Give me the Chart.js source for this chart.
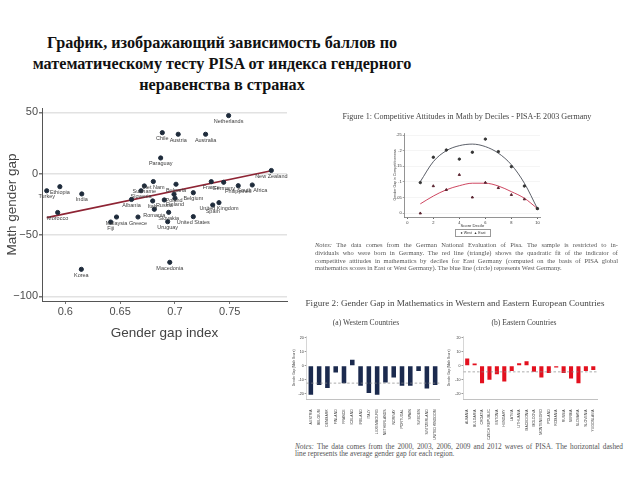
<!DOCTYPE html>
<html>
<head>
<meta charset="utf-8">
<script src="https://cdn.jsdelivr.net/npm/chart.js@4.4.1/dist/chart.umd.min.js"></script>
<style>
body { margin: 0; width: 640px; height: 480px; background: #fff; position: relative; overflow: hidden; }
canvas, .t { position: absolute; }
#title { left: 0; top: 33px; width: 444px; text-align: center; font: bold 16.2px/21px "Liberation Serif", serif; color: #111; }
.t { font-family: "Liberation Serif", serif; color: #444; white-space: nowrap; }
.j { text-align: justify; text-align-last: justify; }
.notes div { white-space: nowrap; }
</style>
</head>
<body>
<div id="title" class="t">График, изображающий зависимость баллов по<br>математическому тесту PISA от индекса гендерного<br>неравенства в странах</div>

<canvas id="main" width="295" height="245" style="left:0;top:100px"></canvas>

<div class="t" style="left:292px;top:112px;width:350px;text-align:center;font-size:8.1px;line-height:10px">Figure 1: Competitive Attitudes in Math by Deciles - PISA-E 2003 Germany</div>
<canvas id="fig1" width="175" height="115" style="left:380px;top:125px"></canvas>
<div class="t" style="left:455px;top:229px;width:34px;height:6px;border:0.5px solid #999;font:3.6px/6px 'Liberation Sans',sans-serif;color:#333;text-align:center">● West &nbsp;▲ East</div>

<div class="t notes" style="left:315px;top:241px;width:303px;font-size:6.5px;line-height:7.8px;color:#555">
  <div class="j"><i>Notes:</i> The data comes from the German National Evaluation of Pisa. The sample is restricted to in-</div>
  <div class="j">dividuals who were born in Germany. The red line (triangle) shows the quadratic fit of the indicator of</div>
  <div class="j">competitive attitudes in mathematics by deciles for East Germany (computed on the basis of PISA global</div>
  <div>mathematics scores in East or West Germany). The blue line (circle) represents West Germany.</div>
</div>

<div class="t" style="left:255px;top:298px;width:400px;text-align:center;font-size:9.1px;line-height:10px">Figure 2: Gender Gap in Mathematics in Western and Eastern European Countries</div>
<div class="t" style="left:316px;top:319px;width:100px;text-align:center;font-size:7.6px;line-height:8px">(a) Western Countries</div>
<div class="t" style="left:474px;top:319px;width:100px;text-align:center;font-size:7.6px;line-height:8px">(b) Eastern Countries</div>
<canvas id="west" width="160" height="110" style="left:285px;top:330px"></canvas>
<canvas id="east" width="160" height="110" style="left:440px;top:330px"></canvas>

<div class="t notes" style="left:295px;top:444px;width:328px;font-size:7.3px;line-height:6.6px;color:#555">
  <div class="j"><i>Notes:</i> The data comes from the 2000, 2003, 2006, 2009 and 2012 waves of PISA. The horizontal dashed</div>
  <div>line represents the average gender gap for each region.</div>
</div>

<script>
// main scatter: gender gap index vs math gender gap
const countries = ['Netherlands', 'Chile', 'Austria', 'Australia', 'Paraguay', 'New Zealand',
  'Turkey', 'Ethiopia', 'India', 'Morocco', 'Korea', 'Macedonia', 'Malaysia', 'Fiji', 'Greece',
  'Albania', 'Suriname', 'Slovenia', 'Viet Nam', 'Bulgaria', 'Poland', 'Finland', 'Belgium',
  'Russia', 'Italy', 'Romania', 'Slovakia', 'Uruguay', 'United States', 'France', 'Germany',
  'Philippines', 'South Africa', 'Spain', 'United Kingdom'];
const genderGapIndex = [0.749, 0.6885, 0.703, 0.728, 0.687, 0.788,
  0.583, 0.595, 0.615, 0.593, 0.6146, 0.6953, 0.6467, 0.6414, 0.6663,
  0.6604, 0.6721, 0.6691, 0.6803, 0.701, 0.6992, 0.7001, 0.7168,
  0.6903, 0.6797, 0.6812, 0.6943, 0.6934, 0.7168, 0.7332, 0.7445,
  0.7578, 0.7706, 0.7345, 0.7402];
const mathGap = [47.3, 33.4, 32.1, 32.1, 12.8, 2.6,
  -13.9, -10.6, -16.5, -31.6, -77.9, -72.2, -35.3, -39.4, -35.3,
  -21.0, -10.0, -13.9, -6.4, -8.6, -16.8, -20.0, -15.5,
  -21.4, -22.2, -29.0, -31.5, -39.1, -35.0, -6.5, -7.0,
  -9.8, -9.2, -25.5, -23.6];
const fitX = [0.583, 0.788];
const fitY = [-35.8, 2.4];
const mainXTicks = [0.6, 0.65, 0.7, 0.75];
const mainYTicks = [-100, -50, 0, 50];

// figure 1: competitive attitudes by decile
const deciles = [1, 2, 3, 4, 5, 6, 7, 8, 9, 10];
const westGap = [0.098, 0.179, 0.202, 0.173, 0.195, 0.237, 0.197, 0.149, 0.087, 0.015];
const eastGap = [0.0, 0.087, 0.075, 0.123, 0.051, 0.098, 0.081, 0.059, 0.045, 0.015];
const westFit = [0.101, 0.165, 0.2, 0.216, 0.221, 0.213, 0.192, 0.155, 0.096, 0.015];
const eastFit = [0.03, 0.055, 0.075, 0.088, 0.096, 0.096, 0.087, 0.069, 0.048, 0.015];
const fig1XTicks = [0, 2, 4, 6, 8, 10];
const fig1YTicks = [0, 0.05, 0.1, 0.15, 0.2, 0.25];

// figure 2: gender gap in western and eastern countries
const westCountries = ['AUSTRIA', 'BELGIUM', 'DENMARK', 'FINLAND', 'FRANCE', 'ICELAND', 'IRELAND', 'ITALY',
  'LUXEMBOURG', 'NETHERLANDS', 'NORWAY', 'PORTUGAL', 'SPAIN', 'SWEDEN', 'SWITZERLAND', 'UNITED KINGDOM'];
const westValues = [-20.7, -13.8, -15.9, -4.8, -12.4, 4.3, -14.3, -19.5,
  -20.7, -11.9, -8.3, -14.3, -14.3, -3.6, -16.2, -13.8];
const westAvg = -12.4;
const eastCountries = ['ALBANIA', 'BULGARIA', 'CROATIA', 'CZECH REPUBLIC', 'ESTONIA', 'HUNGARY', 'LATVIA',
  'LITHUANIA', 'MACEDONIA', 'MOLDOVA', 'MONTENEGRO', 'POLAND', 'ROMANIA', 'RUSSIA', 'SERBIA',
  'SLOVAKIA', 'SLOVENIA', 'YUGOSLAVIA'];
const eastValues = [5.2, 1.7, -12.4, -10, -6, -11.2, -3.6, 1.9, 3.3, -4.3, -8.3, -5.2, -1.2,
  -5.2, -9, -12.4, -3.6, -2.9];
const eastAvg = -4.3;
const fig2YTicks = [-20, -10, 0, 10, 20];

Chart.defaults.font.family = '"Liberation Sans", Arial, sans-serif';
Chart.defaults.animation = false;
Chart.defaults.plugins.legend.display = false;
Chart.defaults.plugins.tooltip.enabled = false;

const setTicks = list => scale => { scale.ticks = list.map(v => ({ value: v })); };

const namesPlugin = {
  id: 'names',
  afterDatasetsDraw(chart) {
    const ctx = chart.ctx;
    const meta = chart.getDatasetMeta(0);
    ctx.save();
    ctx.font = '5.5px "Liberation Sans", sans-serif';
    ctx.fillStyle = '#3c3c3c';
    ctx.textAlign = 'center';
    ctx.textBaseline = 'middle';
    meta.data.forEach((pt, i) => ctx.fillText(countries[i], pt.x, pt.y + 6));
    ctx.restore();
  }
};

new Chart(document.getElementById('main'), {
  type: 'scatter',
  data: {
    datasets: [
      {
        data: countries.map((c, i) => ({ x: genderGapIndex[i], y: mathGap[i] })),
        backgroundColor: '#1e2b3b',
        borderColor: '#1e2b3b',
        pointRadius: 2.1
      },
      {
        type: 'line',
        data: fitX.map((x, i) => ({ x: x, y: fitY[i] })),
        borderColor: '#8e2434',
        borderWidth: 1.6,
        pointRadius: 0
      }
    ]
  },
  options: {
    responsive: false,
    layout: { padding: { top: 8, right: 8, left: 0, bottom: 0 } },
    scales: {
      x: {
        type: 'linear',
        min: 0.5787,
        max: 0.8023,
        afterBuildTicks: setTicks(mainXTicks),
        afterFit: s => { s.height = 44; },
        grid: { drawOnChartArea: false, tickLength: 3, color: '#777' },
        border: { color: '#555', width: 1 },
        ticks: { font: { size: 11 }, color: '#4d4d4d', padding: 1.5, callback: v => String(v) },
        title: { display: true, text: 'Gender gap index', font: { size: 13.5 }, color: '#444', padding: { top: 0, bottom: 4 } }
      },
      y: {
        min: -103.7,
        max: 53.5,
        afterBuildTicks: setTicks(mainYTicks),
        afterFit: s => { s.width = 42; },
        grid: { color: '#e2e2e2', lineWidth: 1.5, tickLength: 3, tickColor: '#777' },
        border: { color: '#555', width: 1 },
        ticks: { font: { size: 11 }, color: '#4d4d4d', padding: 1, callback: v => String(v).replace('-', '\u2212') },
        title: { display: true, text: 'Math gender gap', font: { size: 13.5 }, color: '#444', padding: { top: 4, bottom: 0 } }
      }
    }
  },
  plugins: [namesPlugin]
});

new Chart(document.getElementById('fig1'), {
  type: 'scatter',
  data: {
    datasets: [
      { data: deciles.map((d, i) => ({ x: d, y: westGap[i] })), backgroundColor: '#333', borderColor: '#333', pointRadius: 1.2 },
      { data: deciles.map((d, i) => ({ x: d, y: eastGap[i] })), backgroundColor: '#5a2430', borderColor: '#5a2430', pointRadius: 1.3, pointStyle: 'triangle' },
      { type: 'line', data: deciles.map((d, i) => ({ x: d, y: westFit[i] })), borderColor: '#4a4e58', borderWidth: 0.9, pointRadius: 0, cubicInterpolationMode: 'monotone' },
      { type: 'line', data: deciles.map((d, i) => ({ x: d, y: eastFit[i] })), borderColor: '#c8324f', borderWidth: 0.9, pointRadius: 0, cubicInterpolationMode: 'monotone' }
    ]
  },
  options: {
    responsive: false,
    layout: { padding: { top: 8, right: 15, left: 0, bottom: 0 } },
    scales: {
      x: {
        type: 'linear',
        min: -0.2,
        max: 10.2,
        afterBuildTicks: setTicks(fig1XTicks),
        afterFit: s => { s.height = 23; },
        grid: { drawOnChartArea: false, tickLength: 2, color: '#666' },
        border: { color: '#666', width: 0.7 },
        ticks: { font: { size: 4 }, color: '#333', padding: 1 },
        title: { display: true, text: 'Score Decile', font: { size: 4.2 }, color: '#333', padding: { top: 0, bottom: 11.5 } }
      },
      y: {
        min: -0.012,
        max: 0.2565,
        afterBuildTicks: setTicks(fig1YTicks),
        afterFit: s => { s.width = 24.7; },
        grid: { color: '#eeeeee', lineWidth: 0.6, tickLength: 2, tickColor: '#666' },
        border: { color: '#666', width: 0.7 },
        ticks: { font: { size: 4 }, color: '#333', padding: 1, callback: v => String(v).replace(/^0\./, '.') },
        title: { display: true, text: 'Gender Gap in Competitiveness', font: { size: 3.6 }, color: '#333', padding: { top: 13, bottom: 0 } }
      }
    }
  }
});

const avgLine = value => ({
  id: 'avgLine',
  afterDatasetsDraw(chart) {
    const ctx = chart.ctx;
    const y = chart.scales.y.getPixelForValue(value);
    const { left, right } = chart.chartArea;
    ctx.save();
    ctx.setLineDash([2.5, 2]);
    ctx.strokeStyle = '#888';
    ctx.lineWidth = 0.7;
    ctx.beginPath();
    ctx.moveTo(left, y);
    ctx.lineTo(right, y);
    ctx.stroke();
    ctx.restore();
  }
});

function gapChart(id, labels, values, color, avg, leftWidth, rightPad) {
  return new Chart(document.getElementById(id), {
    type: 'bar',
    data: {
      labels: labels,
      datasets: [{ data: values, backgroundColor: color, barPercentage: 0.55, categoryPercentage: 1 }]
    },
    options: {
      responsive: false,
      layout: { padding: { top: 6.6, right: rightPad, left: 0, bottom: 0 } },
      scales: {
        x: {
          afterFit: s => { s.height = 40.7; },
          grid: { display: false },
          border: { color: '#999', width: 0.6 },
          ticks: { font: { size: 3.5 }, color: '#333', autoSkip: false, minRotation: 90, maxRotation: 90, padding: 2 }
        },
        y: {
          min: -24,
          max: 21,
          afterBuildTicks: setTicks(fig2YTicks),
          afterFit: s => { s.width = leftWidth; },
          grid: { drawOnChartArea: false, tickLength: 2, color: '#999' },
          border: { color: '#bbb', width: 0.6 },
          ticks: { font: { size: 3.6 }, color: '#333', padding: 1 },
          title: { display: true, text: 'Gender Gap (Math Score)', font: { size: 3.2 }, color: '#333', padding: { top: 7, bottom: 0 } }
        }
      }
    },
    plugins: [avgLine(avg)]
  });
}

gapChart('west', westCountries, westValues, '#1b2a4e', westAvg, 21.7, 5.7);
gapChart('east', eastCountries, eastValues, '#e3101e', eastAvg, 23.5, 3);
</script>
</body>
</html>
